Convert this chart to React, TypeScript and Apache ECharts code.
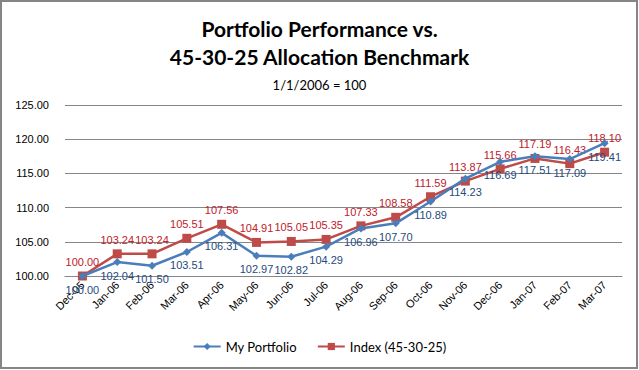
import React, { useEffect, useRef } from "react";
import * as echarts from "echarts";

const categories = ["Dec-05", "Jan-06", "Feb-06", "Mar-06", "Apr-06", "May-06", "Jun-06", "Jul-06", "Aug-06", "Sep-06", "Oct-06", "Nov-06", "Dec-06", "Jan-07", "Feb-07", "Mar-07"];
const portfolio = [100.0, 102.04, 101.5, 103.51, 106.31, 102.97, 102.82, 104.29, 106.96, 107.7, 110.89, 114.23, 116.69, 117.51, 117.09, 119.41];
const indexBench = [100.0, 103.24, 103.24, 105.51, 107.56, 104.91, 105.05, 105.35, 107.33, 108.58, 111.59, 113.87, 115.66, 117.19, 116.43, 118.1];
const yMin = 100;
const yMax = 125;
const yStep = 5;

const labelFont = "'Liberation Sans', Arial, sans-serif";
const titleFont = "Lato, 'Open Sans', sans-serif";

export default function App() {
  const ref = useRef<HTMLDivElement>(null);
  useEffect(() => {
    if (!ref.current) return;
    const chart = echarts.init(ref.current, undefined, { renderer: "svg" });
    chart.setOption({
      animation: false,
      backgroundColor: "#ffffff",
      title: [
        {
          text: "Portfolio Performance vs.",
          left: "center",
          top: 13,
          textStyle: { fontFamily: titleFont, fontWeight: "bold", fontSize: 21, color: "#000" },
        },
        {
          text: "45-30-25 Allocation Benchmark",
          left: "center",
          top: 41,
          textStyle: { fontFamily: titleFont, fontWeight: "bold", fontSize: 21, color: "#000" },
        },
        {
          text: "1/1/2006 = 100",
          left: "center",
          top: 73,
          textStyle: { fontFamily: titleFont, fontWeight: "normal", fontSize: 13, color: "#000" },
        },
      ],
      graphic: [
        {
          type: "rect",
          shape: { x: 1, y: 1, width: 636, height: 367 },
          style: { fill: "none", stroke: "#858585", lineWidth: 2 },
          silent: true,
        },
      ],
      legend: {
        bottom: 12,
        left: "center",
        itemWidth: 27,
        itemHeight: 9,
        itemGap: 20,
        textStyle: { fontFamily: titleFont, fontSize: 13, color: "#000" },
        data: ["My Portfolio", "Index (45-30-25)"],
      },
      grid: { left: 65, right: 17, top: 105, bottom: 94 },
      xAxis: {
        type: "category",
        data: categories,
        boundaryGap: true,
        axisLine: { lineStyle: { color: "#868686", width: 1 } },
        axisTick: { show: false },
        axisLabel: {
          rotate: 45,
          interval: 0,
          fontFamily: labelFont,
          fontSize: 11,
          color: "#000",
          margin: 7,
        },
      },
      yAxis: {
        type: "value",
        min: yMin,
        max: yMax,
        interval: yStep,
        axisLine: { show: false },
        axisTick: { show: false },
        splitLine: { lineStyle: { color: "#868686", width: 1 } },
        axisLabel: {
          fontFamily: labelFont,
          fontSize: 11,
          color: "#000",
          margin: 16,
          formatter: (v: number) => v.toFixed(2),
        },
      },
      series: [
        {
          name: "My Portfolio",
          type: "line",
          data: portfolio,
          symbol: "diamond",
          symbolSize: 8,
          itemStyle: { color: "#4A7EBB" },
          lineStyle: { color: "#4A7EBB", width: 2.5 },
          label: {
            show: true,
            position: "bottom",
            distance: 4,
            fontFamily: labelFont,
            fontSize: 11,
            color: "#254A7C",
            formatter: (p: any) => Number(p.value).toFixed(2),
          },
          z: 3,
        },
        {
          name: "Index (45-30-25)",
          type: "line",
          data: indexBench,
          symbol: "rect",
          symbolSize: 9,
          itemStyle: { color: "#BE4B48" },
          lineStyle: { color: "#BE4B48", width: 2.5 },
          label: {
            show: true,
            position: "top",
            distance: 4,
            fontFamily: labelFont,
            fontSize: 11,
            color: "#C0202A",
            formatter: (p: any) => Number(p.value).toFixed(2),
          },
          z: 2,
        },
      ],
    });
    return () => chart.dispose();
  }, []);
  return (
    <div
      ref={ref}
      style={{ position: "fixed", left: 0, top: 0, width: 639, height: 370 }}
    />
  );
}
